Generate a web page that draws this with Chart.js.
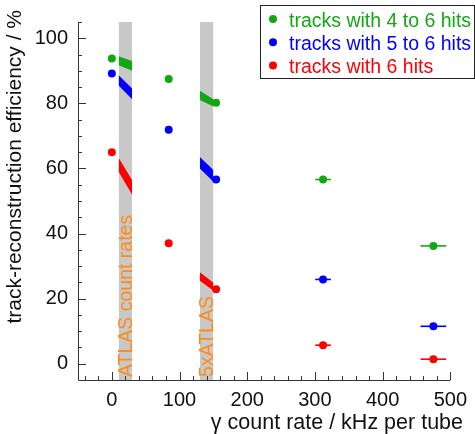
<!DOCTYPE html>
<html><head><meta charset="utf-8">
<script src="https://cdn.jsdelivr.net/npm/chart.js@4/dist/chart.umd.min.js"></script>
<style>html,body{margin:0;padding:0;background:#fff}#wrap{width:475px;height:434px;position:relative}</style>
</head><body><div id="wrap"><canvas id="c"></canvas></div>
<script>
// ---- data ----
const rates = [0, 84, 154, 312, 475];           // kHz per tube
const rateErr = [0, 0, 0, 11.5, 19];             // horizontal error
const eff4to6 = [93.8, 87.5, 80.2, 56.6, 36.2];
const eff5to6 = [89.2, 71.9, 56.6, 25.9, 11.5];
const eff6    = [65.0, 37.0, 22.9, 5.7, 1.4];
const seriesLabels = ['tracks with 4 to 6 hits', 'tracks with 5 to 6 hits', 'tracks with 6 hits'];

const atlasRange  = [10, 30];     // "ATLAS count rates"
const atlas5Range = [130, 150];   // "5xATLAS"
const atlasLabel  = 'ATLAS count rates';
const atlas5Label = '5xATLAS';

// interpolated bands inside the grey regions (upper / lower edges at range ends)
const band1Upper4to6 = [94.5, 93.0], band1Lower4to6 = [91.7, 90.0];
const band1Upper5to6 = [88.6, 84.6], band1Lower5to6 = [85.5, 81.3];
const band1Upper6    = [63.3, 56.4], band1Lower6    = [59.0, 51.9];
const band2Upper4to6 = [83.9, 81.3], band2Lower4to6 = [81.0, 79.0];
const band2Upper5to6 = [63.5, 59.5], band2Lower5to6 = [60.0, 55.9];
const band2Upper6    = [28.1, 24.9], band2Lower6    = [25.5, 22.4];

const xTicks = [0, 100, 200, 300, 400, 500];
const yTicks = [0, 20, 40, 60, 80, 100];
const xRange = [-50, 500];
const yRange = [-5, 105];

const xTitle = 'γ count rate / kHz per tube';
const yTitle = 'track-reconstruction efficiency / %';

// ---- styles ----
const colors = ['#12a812', '#0000ff', '#ff0000'];
const grey = '#c8c8c8';
const orange = '#ff8c1a';
const FONT = '"Liberation Sans", Arial, sans-serif';

const effs = [eff4to6, eff5to6, eff6];
const bands = [
  [atlasRange, band1Upper4to6, band1Lower4to6, 0],
  [atlasRange, band1Upper5to6, band1Lower5to6, 1],
  [atlasRange, band1Upper6, band1Lower6, 2],
  [atlas5Range, band2Upper4to6, band2Lower4to6, 0],
  [atlas5Range, band2Upper5to6, band2Lower5to6, 1],
  [atlas5Range, band2Upper6, band2Lower6, 2],
];

const datasets = [];
effs.forEach((e, i) => {
  datasets.push({
    type: 'scatter', label: seriesLabels[i],
    data: rates.map((r, k) => ({x: r, y: e[k], xErr: rateErr[k]})),
    backgroundColor: colors[i], borderColor: colors[i], borderWidth: 0,
    pointRadius: 4, pointHoverRadius: 4, showLine: false, order: 0
  });
});
bands.forEach(([rng, up, lo, ci]) => {
  datasets.push({
    type: 'line', label: '_band', data: rng.map((x, k) => ({x, y: up[k]})),
    borderWidth: 0, pointRadius: 0, fill: false, backgroundColor: colors[ci], order: 1
  });
  datasets.push({
    type: 'line', label: '_band', data: rng.map((x, k) => ({x, y: lo[k]})),
    borderWidth: 0, pointRadius: 0, fill: '-1', backgroundColor: colors[ci], order: 1
  });
});
[atlasRange, atlas5Range].forEach(rng => {
  datasets.push({
    type: 'line', label: '_grey', data: rng.map(x => ({x, y: yRange[1]})),
    borderWidth: 0, pointRadius: 0, fill: 'start', backgroundColor: grey, order: 2
  });
});

const decor = {
  id: 'decor',
  afterDatasetsDraw(chart) {
    const ctx = chart.ctx, xs = chart.scales.x, ys = chart.scales.y;
    // error bars
    ctx.save();
    ctx.lineWidth = 1.6;
    effs.forEach((e, i) => {
      ctx.strokeStyle = colors[i];
      rates.forEach((r, k) => {
        if (!rateErr[k]) return;
        const y = ys.getPixelForValue(e[k]);
        ctx.beginPath();
        ctx.moveTo(xs.getPixelForValue(r - rateErr[k]), y);
        ctx.lineTo(xs.getPixelForValue(r + rateErr[k]), y);
        ctx.stroke();
      });
    });
    ctx.restore();
    // band texts
    ctx.save();
    ctx.fillStyle = orange;
    ctx.font = '19.5px ' + FONT;
    ctx.textAlign = 'left';
    ctx.textBaseline = 'alphabetic';
    [[atlasRange, atlasLabel], [atlas5Range, atlas5Label]].forEach(([rng, txt]) => {
      ctx.save();
      ctx.translate(xs.getPixelForValue(rng[1]) - 0.5, ys.bottom - 3);
      ctx.rotate(-Math.PI / 2);
      ctx.fillText(txt, 0, 0);
      ctx.restore();
    });
    ctx.restore();
  },
  afterDraw(chart) {
    const ctx = chart.ctx, xs = chart.scales.x, ys = chart.scales.y;
    ctx.save();
    ctx.strokeStyle = '#333';
    ctx.lineWidth = 1;
    // axes lines
    ctx.beginPath();
    ctx.moveTo(xs.left + 0.5, ys.top);
    ctx.lineTo(xs.left + 0.5, ys.bottom + 0.5);
    ctx.lineTo(xs.right, ys.bottom + 0.5);
    ctx.stroke();
    // ticks (inward)
    ctx.beginPath();
    for (let v = -40; v <= xRange[1] + 1e-9; v += 20) {
      const major = Math.abs(v % 100) < 1e-9;
      const px = Math.round(xs.getPixelForValue(v)) + 0.5;
      ctx.moveTo(px, ys.bottom);
      ctx.lineTo(px, ys.bottom - (major ? 8 : 4));
    }
    for (let v = 0; v <= yRange[1] + 1e-9; v += 5) {
      const major = v % 20 === 0;
      const py = Math.round(ys.getPixelForValue(v)) + 0.5;
      ctx.moveTo(xs.left, py);
      ctx.lineTo(xs.left + (major ? 8 : 4), py);
    }
    ctx.stroke();
    ctx.restore();
    // axis titles
    ctx.save();
    ctx.fillStyle = '#111';
    ctx.font = '21.5px ' + FONT;
    ctx.textAlign = 'right';
    ctx.textBaseline = 'middle';
    ctx.fillText(xTitle, 463, 423);
    ctx.translate(15, 10);
    ctx.rotate(-Math.PI / 2);
    ctx.font = '21px ' + FONT;
    ctx.fillText(yTitle, 0, 0);
    ctx.restore();
    // legend
    ctx.save();
    ctx.strokeStyle = '#222';
    ctx.lineWidth = 1;
    ctx.strokeRect(260.5, 5.5, 214, 73);
    ctx.font = '19.5px ' + FONT;
    ctx.textAlign = 'left';
    ctx.textBaseline = 'alphabetic';
    seriesLabels.forEach((lab, i) => {
      const y = 19 + i * 23.3;
      ctx.fillStyle = colors[i];
      ctx.beginPath();
      ctx.arc(273, y, 4, 0, Math.PI * 2);
      ctx.fill();
      ctx.fillText(lab, 289, y + 7.7);
    });
    ctx.restore();
  }
};

new Chart(document.getElementById('c'), {
  data: { datasets },
  options: {
    responsive: true, maintainAspectRatio: false, animation: false,
    layout: { padding: { top: 7, right: 24, left: 0, bottom: 0 } },
    plugins: { legend: { display: false }, tooltip: { enabled: false } },
    scales: {
      x: {
        type: 'linear', min: xRange[0], max: xRange[1],
        grid: { display: false, drawTicks: false }, border: { display: false },
        afterBuildTicks: s => { s.ticks = xTicks.map(v => ({value: v})); },
        afterFit: s => { s.height = 54; },
        ticks: { padding: 8, color: '#111', font: { family: FONT, size: 20 } }
      },
      y: {
        type: 'linear', min: yRange[0], max: yRange[1],
        grid: { display: false, drawTicks: false }, border: { display: false },
        afterBuildTicks: s => { s.ticks = yTicks.map(v => ({value: v})); },
        afterFit: s => { s.width = 78; },
        ticks: { padding: 10, color: '#111', font: { family: FONT, size: 20 } }
      }
    }
  },
  plugins: [decor]
});
</script>
</body></html>
